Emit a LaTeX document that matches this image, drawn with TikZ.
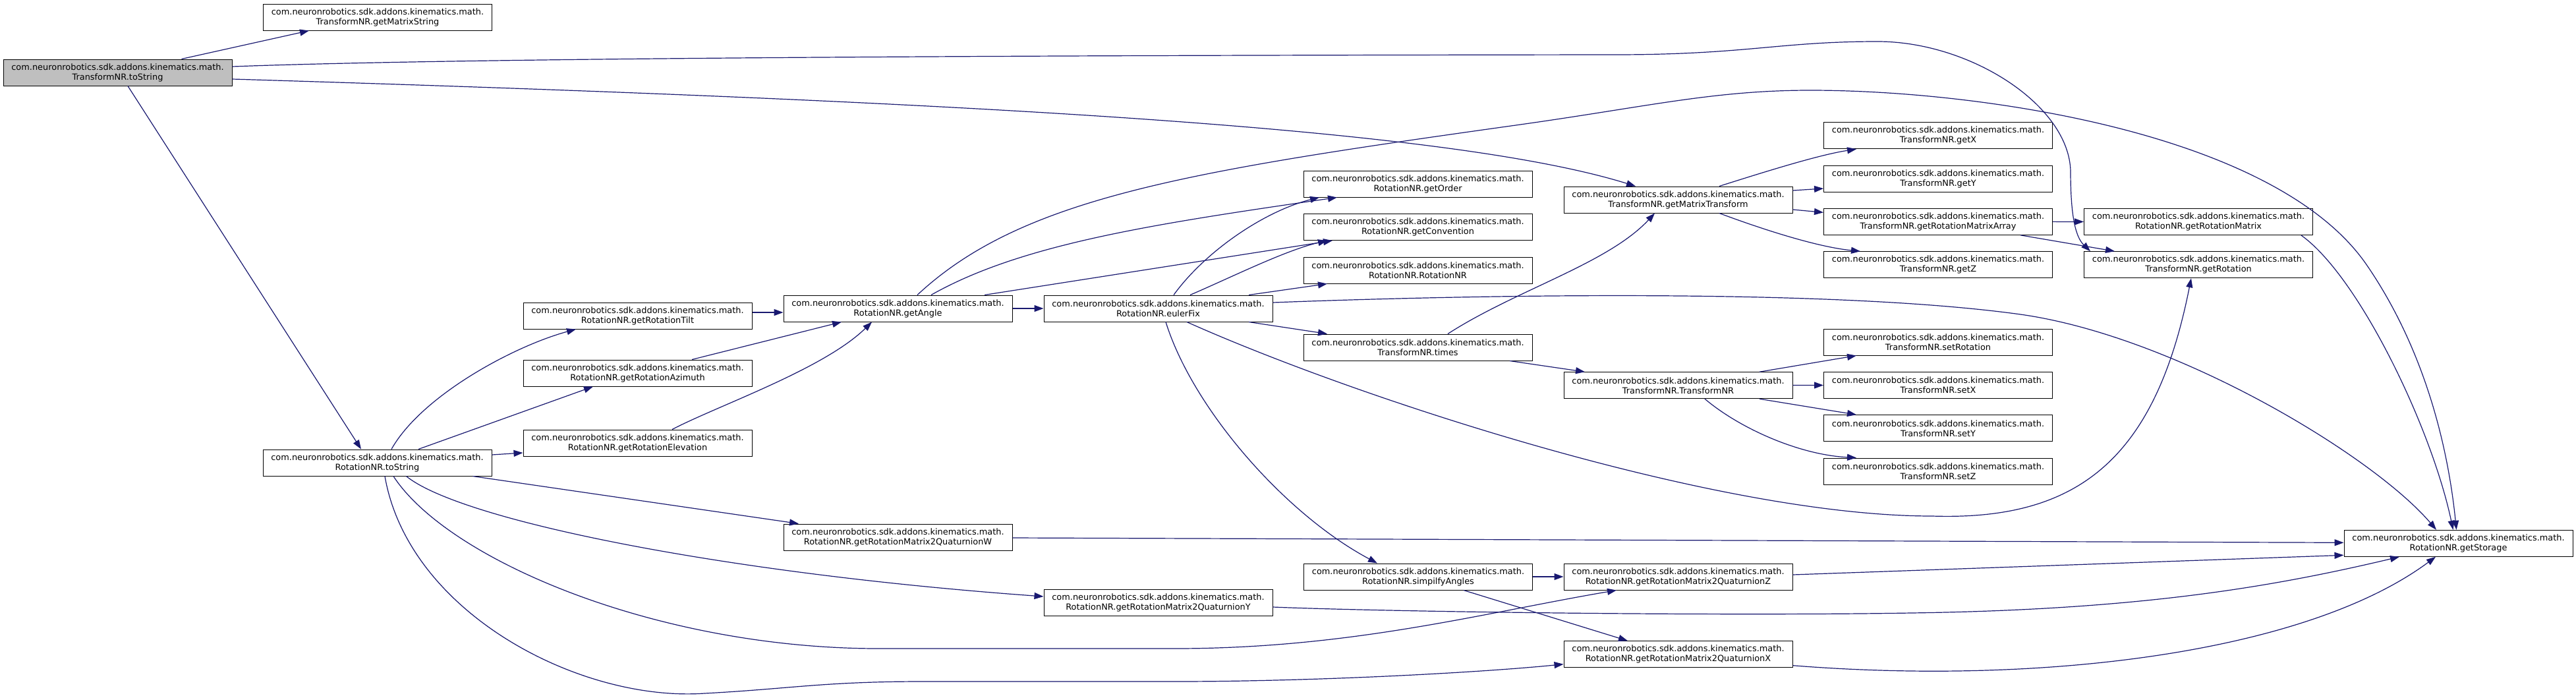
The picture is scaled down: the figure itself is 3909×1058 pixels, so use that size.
\documentclass[tikz,border=0pt]{standalone}
\usepackage{fontspec}
\newfontfamily\dvs{DejaVu Sans}
\usetikzlibrary{arrows.meta}
\definecolor{edgec}{HTML}{191970}
\begin{document}
\begin{tikzpicture}[x=1pt,y=-1pt,
  box/.style={draw=black, line width=1pt, fill=white, minimum width=347pt, minimum height=40pt, inner sep=0pt, align=center, font={\dvs\fontsize{12.9}{15}\selectfont}},
  e/.style={draw=edgec, line width=1.2pt, -{Triangle[length=14pt,width=10pt]}}]
\fill[white] (0,0) rectangle (3909,1058);
\useasboundingbox (0,0) rectangle (3909,1058);
\def\pk{com.neuronrobotics.sdk.addons.kinematics.math.\\}
\node[box, fill={rgb,255:red,191;green,191;blue,191}] (Tts) at (178.5,110) {\pk TransformNR.toString};
\node[box] (gms) at (573,26) {\pk TransformNR.getMatrixString};
\node[box] (Rts) at (572.5,702) {\pk RotationNR.toString};
\node[box] (tilt) at (967.5,479) {\pk RotationNR.getRotationTilt};
\node[box] (azi) at (967.5,566) {\pk RotationNR.getRotationAzimuth};
\node[box] (elev) at (967.5,672) {\pk RotationNR.getRotationElevation};
\node[box] (angle) at (1362.5,468) {\pk RotationNR.getAngle};
\node[box] (W) at (1362.5,815) {\pk RotationNR.getRotationMatrix2QuaturnionW};
\node[box] (euler) at (1757.5,468) {\pk RotationNR.eulerFix};
\node[box] (Y) at (1757.5,914) {\pk RotationNR.getRotationMatrix2QuaturnionY};
\node[box] (order) at (2151.5,279) {\pk RotationNR.getOrder};
\node[box] (conv) at (2151.5,344.5) {\pk RotationNR.getConvention};
\node[box] (rotnr) at (2151.5,410) {\pk RotationNR.RotationNR};
\node[box] (times) at (2151.5,527) {\pk TransformNR.times};
\node[box] (simp) at (2152,875) {\pk RotationNR.simpilfyAngles};
\node[box] (gmt) at (2546.5,303) {\pk TransformNR.getMatrixTransform};
\node[box] (tnr) at (2546.5,584.7) {\pk TransformNR.TransformNR};
\node[box] (Z) at (2546.5,875) {\pk RotationNR.getRotationMatrix2QuaturnionZ};
\node[box] (X) at (2546.5,992.7) {\pk RotationNR.getRotationMatrix2QuaturnionX};
\node[box] (getX) at (2941,205.7) {\pk TransformNR.getX};
\node[box] (getY) at (2941,271) {\pk TransformNR.getY};
\node[box] (grma) at (2941,336.3) {\pk TransformNR.getRotationMatrixArray};
\node[box] (getZ) at (2941,401.7) {\pk TransformNR.getZ};
\node[box] (setRot) at (2941,519) {\pk TransformNR.setRotation};
\node[box] (setX) at (2941,584.3) {\pk TransformNR.setX};
\node[box] (setY) at (2941,649.7) {\pk TransformNR.setY};
\node[box] (setZ) at (2941,715) {\pk TransformNR.setZ};
\node[box] (grm) at (3336,336.5) {\pk RotationNR.getRotationMatrix};
\node[box] (grot) at (3336,401.7) {\pk TransformNR.getRotation};
\node[box] (stor) at (3730.5,824.3) {\pk RotationNR.getStorage};
% edges
\draw[e] ([xshift=97pt]Tts.north) -- ([xshift=-104pt]gms.south);
\draw[e] ([xshift=15.5pt]Tts.south) -- ([xshift=-24.5pt]Rts.north);
\draw[e] ([yshift=-10pt]Tts.east) .. controls (1500,155) and (2200,195) .. ([xshift=-64.5pt]gmt.north);
\draw[e] ([yshift=9pt]Tts.east) .. controls (700,88) and (1500,84) .. (2450,83) .. controls (2650,83) and (2700,63) .. (2849,63) .. controls (2990,63) and (3140,160) .. (3142,260) .. controls (3142,330) and (3150,360) .. ([xshift=-164pt]grot.north);
\draw[e] ([xshift=21.5pt]Rts.north) .. controls (640,600) and (780,525) .. ([xshift=-93.5pt]tilt.south);
\draw[e] ([xshift=62.5pt]Rts.north) -- ([xshift=-67.5pt]azi.south);
\draw[e] ([yshift=12pt]Rts.east) -- ([yshift=-15pt]elev.west);
\draw[e] ([xshift=145pt]Rts.south) -- ([xshift=-150.5pt]W.north);
\draw[e] ([xshift=44pt]Rts.south) .. controls (700,790) and (1100,870) .. ([yshift=9pt]Y.west);
\draw[e] ([xshift=24.5pt]Rts.south) .. controls (680,850) and (1000,985) .. (1337,984) -- (1783,984) .. controls (2050,984) and (2250,930) .. ([xshift=-93.5pt]Z.south);
\draw[e] ([xshift=11.5pt]Rts.south) .. controls (620,930) and (880,1065) .. (1069,1052) .. controls (1200,1045) and (1250,1034) .. (1400,1034) -- (1783,1034) .. controls (2000,1034) and (2250,1020) .. ([yshift=-15pt]X.west);
\draw[e] ([yshift=5pt]tilt.east) -- ([yshift=-6pt]angle.west);
\draw[e] ([xshift=82.5pt]azi.north) -- ([xshift=-85.5pt]angle.south);
\draw[e] ([xshift=52.5pt]elev.north) .. controls (1090,615) and (1250,560) .. ([xshift=-39.5pt]angle.south);
\draw[e] (angle) -- (euler);
\draw[e] ([xshift=50.5pt]angle.north) .. controls (1550,370) and (1750,340) .. ([xshift=-122.5pt]order.south);
\draw[e] ([xshift=131.5pt]angle.north) -- ([xshift=-129.5pt]conv.south);
\draw[e] ([xshift=29.5pt]angle.north) .. controls (1550,300) and (1800,260) .. (2300,190) .. controls (2500,162) and (2600,137) .. (2747,137) .. controls (3000,137) and (3450,200) .. (3590,400) .. controls (3680,530) and (3715,680) .. ([xshift=-3pt]stor.north);
\draw[e] ([xshift=23.5pt]euler.north) .. controls (1830,380) and (1920,320) .. ([xshift=-149.5pt]order.south);
\draw[e] ([xshift=48.5pt]euler.north) .. controls (1870,420) and (1950,380) .. ([xshift=-137.5pt]conv.south);
\draw[e] ([xshift=137.5pt]euler.north) -- ([xshift=-137.5pt]rotnr.south);
\draw[e] ([xshift=137.5pt]euler.south) -- ([xshift=-137.5pt]times.north);
\draw[e] ([yshift=9pt]euler.east) .. controls (2300,445) and (2800,440) .. (3066,477) .. controls (3300,510) and (3600,690) .. ([xshift=-33.5pt]stor.north);
\draw[e] ([xshift=11.5pt]euler.south) .. controls (1810,620) and (1950,780) .. ([xshift=-62pt]simp.north);
\draw[e] ([xshift=43.5pt]euler.south) .. controls (2050,600) and (2600,783) .. (2932,783) .. controls (3150,790) and (3270,700) .. ([xshift=-11pt]grot.south);
\draw[e] ([xshift=45.5pt]times.north) .. controls (2300,440) and (2440,400) .. ([xshift=-35.5pt]gmt.south);
\draw[e] ([xshift=139.5pt]times.south) -- ([xshift=-141.5pt]tnr.north);
\draw[e] ([xshift=62.5pt]gmt.north) .. controls (2680,260) and (2760,235) .. ([xshift=-124pt]getX.south);
\draw[e] ([yshift=14pt]gmt.east) -- ([yshift=-15pt]getY.west);
\draw[e] ([yshift=-15pt]gmt.east) -- ([yshift=14pt]grma.west);
\draw[e] ([xshift=62.5pt]gmt.south) .. controls (2680,350) and (2760,375) .. ([xshift=-118pt]getZ.north);
\draw[e] (grma) -- (grm);
\draw[e] ([xshift=125pt]grma.south) -- ([xshift=-127pt]grot.north);
\draw[e] ([xshift=156pt]grm.south) .. controls (3580,420) and (3690,650) .. ([xshift=-8pt]stor.north);
\draw[e] ([xshift=123.5pt]tnr.north) -- ([xshift=-124pt]setRot.south);
\draw[e] (tnr) -- (setX);
\draw[e] ([xshift=123.5pt]tnr.south) -- ([xshift=-124pt]setY.north);
\draw[e] ([xshift=40.5pt]tnr.south) .. controls (2640,650) and (2730,690) .. ([xshift=-124pt]setZ.north);
\draw[e] (simp) -- (Z);
\draw[e] ([xshift=69pt]simp.south) -- ([xshift=-76.5pt]X.north);
\draw[e] ([yshift=-1pt]W.east) -- ([yshift=1pt]stor.west);
\draw[e] ([yshift=3pt]Z.east) -- ([yshift=-18pt]stor.west);
\draw[e] ([yshift=-7pt]Y.east) .. controls (2100,928) and (2600,935) .. (2900,930) .. controls (3250,925) and (3450,890) .. ([xshift=-89.5pt]stor.south);
\draw[e] ([yshift=-17pt]X.east) .. controls (3100,1040) and (3500,990) .. ([xshift=-34.5pt]stor.south);
\end{tikzpicture}
\end{document}
